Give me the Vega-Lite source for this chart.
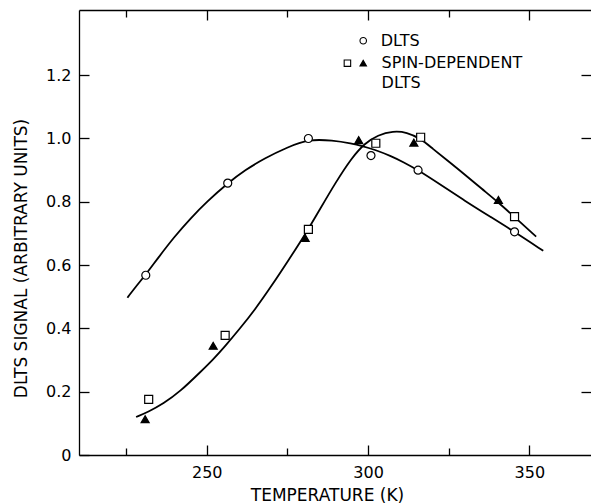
{
  "$schema": "https://vega.github.io/schema/vega-lite/v6.json",
  "width": 512,
  "height": 445,
  "autosize": {"type": "none"},
  "padding": {"left": 79, "top": 10, "right": 0, "bottom": 48},
  "background": "white",
  "config": {
    "view": {"stroke": null},
    "font": "DejaVu Sans",
    "axis": {
      "grid": false,
      "domainColor": "black",
      "tickColor": "black",
      "labelColor": "black",
      "titleColor": "black",
      "labelFont": "DejaVu Sans",
      "titleFont": "DejaVu Sans",
      "titleFontWeight": "normal",
      "domainWidth": 1.3,
      "tickWidth": 1.3
    }
  },
  "datasets": {
    "curves": [
      {"series": "DLTS", "T": 225.4, "v": 0.497},
      {"series": "DLTS", "T": 228, "v": 0.532},
      {"series": "DLTS", "T": 231.1, "v": 0.57},
      {"series": "DLTS", "T": 235, "v": 0.624},
      {"series": "DLTS", "T": 240, "v": 0.69},
      {"series": "DLTS", "T": 245, "v": 0.748},
      {"series": "DLTS", "T": 250, "v": 0.8},
      {"series": "DLTS", "T": 256.5, "v": 0.859},
      {"series": "DLTS", "T": 262, "v": 0.901},
      {"series": "DLTS", "T": 268, "v": 0.938},
      {"series": "DLTS", "T": 275, "v": 0.972},
      {"series": "DLTS", "T": 281.5, "v": 0.998},
      {"series": "DLTS", "T": 289, "v": 0.994},
      {"series": "DLTS", "T": 295, "v": 0.984},
      {"series": "DLTS", "T": 298, "v": 0.977},
      {"series": "DLTS", "T": 302, "v": 0.965},
      {"series": "DLTS", "T": 307, "v": 0.945},
      {"series": "DLTS", "T": 311, "v": 0.925},
      {"series": "DLTS", "T": 315.5, "v": 0.9},
      {"series": "DLTS", "T": 322, "v": 0.857},
      {"series": "DLTS", "T": 330, "v": 0.803},
      {"series": "DLTS", "T": 338, "v": 0.752},
      {"series": "DLTS", "T": 345.4, "v": 0.705},
      {"series": "DLTS", "T": 354.3, "v": 0.645},
      {"series": "SDLTS", "T": 228.1, "v": 0.12},
      {"series": "SDLTS", "T": 232, "v": 0.137},
      {"series": "SDLTS", "T": 236.5, "v": 0.162},
      {"series": "SDLTS", "T": 241.7, "v": 0.2},
      {"series": "SDLTS", "T": 248, "v": 0.262},
      {"series": "SDLTS", "T": 252, "v": 0.302},
      {"series": "SDLTS", "T": 255.7, "v": 0.344},
      {"series": "SDLTS", "T": 260, "v": 0.396},
      {"series": "SDLTS", "T": 265, "v": 0.46},
      {"series": "SDLTS", "T": 270, "v": 0.533},
      {"series": "SDLTS", "T": 275, "v": 0.61},
      {"series": "SDLTS", "T": 281, "v": 0.705},
      {"series": "SDLTS", "T": 285, "v": 0.775},
      {"series": "SDLTS", "T": 290, "v": 0.862},
      {"series": "SDLTS", "T": 295, "v": 0.94},
      {"series": "SDLTS", "T": 299, "v": 0.985},
      {"series": "SDLTS", "T": 303, "v": 1.011},
      {"series": "SDLTS", "T": 307.8, "v": 1.024},
      {"series": "SDLTS", "T": 312, "v": 1.02},
      {"series": "SDLTS", "T": 316.3, "v": 1.0},
      {"series": "SDLTS", "T": 320, "v": 0.968},
      {"series": "SDLTS", "T": 324.4, "v": 0.932},
      {"series": "SDLTS", "T": 330.6, "v": 0.881},
      {"series": "SDLTS", "T": 335, "v": 0.843},
      {"series": "SDLTS", "T": 340.4, "v": 0.798},
      {"series": "SDLTS", "T": 345.4, "v": 0.752},
      {"series": "SDLTS", "T": 352.1, "v": 0.69}
    ],
    "points": [
      {"marker": "circle", "T": 231.1, "v": 0.568},
      {"marker": "circle", "T": 256.5, "v": 0.859},
      {"marker": "circle", "T": 281.5, "v": 1.0},
      {"marker": "circle", "T": 300.9, "v": 0.946},
      {"marker": "circle", "T": 315.5, "v": 0.9},
      {"marker": "circle", "T": 345.4, "v": 0.705},
      {"marker": "square", "T": 232.0, "v": 0.176},
      {"marker": "square", "T": 255.7, "v": 0.378},
      {"marker": "square", "T": 281.5, "v": 0.713},
      {"marker": "square", "T": 302.4, "v": 0.985},
      {"marker": "square", "T": 316.3, "v": 1.004},
      {"marker": "square", "T": 345.4, "v": 0.753},
      {"marker": "triangle", "T": 230.9, "v": 0.113},
      {"marker": "triangle", "T": 252.0, "v": 0.345},
      {"marker": "triangle", "T": 280.5, "v": 0.686},
      {"marker": "triangle", "T": 297.1, "v": 0.995},
      {"marker": "triangle", "T": 314.2, "v": 0.987},
      {"marker": "triangle", "T": 340.4, "v": 0.806}
    ],
    "legendSym": [
      {"marker": "circle", "T": 298.5, "v": 1.309},
      {"marker": "square", "T": 293.6, "v": 1.238},
      {"marker": "triangle", "T": 298.5, "v": 1.238}
    ],
    "legendText": [
      {"label": "DLTS", "T": 303.9, "v": 1.309},
      {"label": "SPIN-DEPENDENT", "T": 304.2, "v": 1.238},
      {"label": "DLTS", "T": 304.2, "v": 1.176}
    ]
  },
  "layer": [
    {
      "data": {"name": "curves"},
      "mark": {"type": "line", "interpolate": "basis", "strokeWidth": 1.8, "color": "black"},
      "encoding": {
        "x": {
          "field": "T", "type": "quantitative",
          "scale": {"domain": [210.4, 369.1], "nice": false, "zero": false},
          "axis": {
            "orient": "bottom", "values": [250, 300, 350], "tickSize": -10,
            "labelPadding": 19, "labelFontSize": 16,
            "title": "TEMPERATURE (K)", "titleFontSize": 17,
            "titleX": 248, "titleY": 40, "titleBaseline": "middle", "titleAlign": "center"
          }
        },
        "y": {
          "field": "v", "type": "quantitative",
          "scale": {"domain": [0, 1.406], "nice": false},
          "axis": {
            "orient": "left", "values": [0, 0.2, 0.4, 0.6, 0.8, 1.0, 1.2], "tickSize": -10,
            "labelPadding": 18, "labelFontSize": 16,
            "labelExpr": "datum.value == 0 ? '0' : format(datum.value, '.1f')",
            "title": "DLTS SIGNAL (ARBITRARY UNITS)", "titleFontSize": 17,
            "titleX": -58, "titleY": 248, "titleAngle": -90,
            "titleBaseline": "middle", "titleAlign": "center"
          }
        },
        "detail": {"field": "series"}
      }
    },
    {
      "data": {"name": "points"},
      "mark": {"type": "point", "filled": true, "stroke": "black", "strokeWidth": 1.2, "size": 64, "opacity": 1},
      "encoding": {
        "x": {
          "field": "T", "type": "quantitative",
          "scale": {"domain": [210.4, 369.1], "nice": false, "zero": false},
          "axis": {"orient": "bottom", "values": [225, 275, 325], "tickSize": -7, "labels": false, "domain": false, "title": null}
        },
        "y": {
          "field": "v", "type": "quantitative",
          "scale": {"domain": [0, 1.406], "nice": false},
          "axis": {"orient": "right", "values": [0.2, 0.4, 0.6, 0.8, 1.0, 1.2], "tickSize": -10, "labels": false, "domain": false, "title": null}
        },
        "shape": {
          "field": "marker", "type": "nominal",
          "scale": {"domain": ["circle", "square", "triangle"], "range": ["circle", "square", "triangle-up"]},
          "legend": null
        },
        "fill": {
          "field": "marker", "type": "nominal",
          "scale": {"domain": ["circle", "square", "triangle"], "range": ["white", "white", "black"]},
          "legend": null
        }
      }
    },
    {
      "data": {"name": "legendSym"},
      "mark": {"type": "point", "filled": true, "stroke": "black", "strokeWidth": 1.1, "size": 42, "opacity": 1},
      "encoding": {
        "x": {
          "field": "T", "type": "quantitative",
          "scale": {"domain": [210.4, 369.1], "nice": false, "zero": false},
          "axis": {"orient": "top", "values": [250, 300, 350], "tickSize": -10, "labels": false, "domain": true, "title": null}
        },
        "y": {
          "field": "v", "type": "quantitative",
          "scale": {"domain": [0, 1.406], "nice": false},
          "axis": null
        },
        "shape": {
          "field": "marker", "type": "nominal",
          "scale": {"domain": ["circle", "square", "triangle"], "range": ["circle", "square", "triangle-up"]},
          "legend": null
        },
        "fill": {
          "field": "marker", "type": "nominal",
          "scale": {"domain": ["circle", "square", "triangle"], "range": ["white", "white", "black"]},
          "legend": null
        }
      }
    },
    {
      "data": {"name": "legendText"},
      "mark": {"type": "text", "align": "left", "baseline": "middle", "fontSize": 16, "font": "DejaVu Sans", "color": "black"},
      "encoding": {
        "x": {
          "field": "T", "type": "quantitative",
          "scale": {"domain": [210.4, 369.1], "nice": false, "zero": false},
          "axis": {"orient": "top", "values": [225, 275, 325], "tickSize": -7, "labels": false, "domain": false, "title": null}
        },
        "y": {
          "field": "v", "type": "quantitative",
          "scale": {"domain": [0, 1.406], "nice": false},
          "axis": null
        },
        "text": {"field": "label"}
      }
    }
  ],
  "resolve": {"axis": {"x": "independent", "y": "independent"}}
}
